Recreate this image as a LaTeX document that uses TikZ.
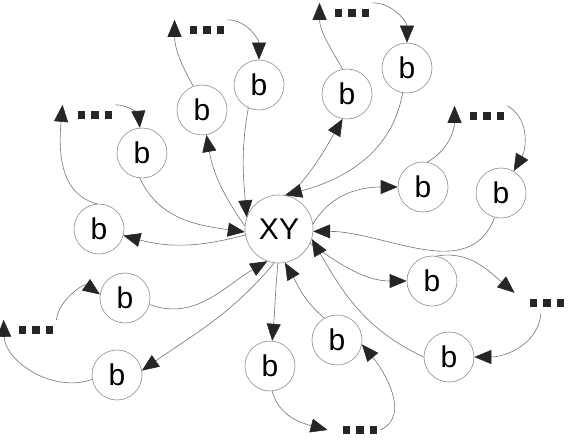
\documentclass[tikz,border=0pt]{standalone}
\usepackage{fontspec}
\setmainfont{Liberation Sans}
\usetikzlibrary{arrows.meta}

% three square dots, with room on the left for the arrow tip
\newcommand{\etcdots}{\hspace*{12pt}\rule{7.5pt}{7.5pt}\hspace{6pt}\rule{7.5pt}{7.5pt}\hspace{6pt}\rule{7.5pt}{7.5pt}}

\begin{document}
\begin{tikzpicture}[x=1pt, y=1pt,
    ball/.style={circle, draw=black!45, line width=0.6pt, minimum size=50pt, inner sep=0pt,
                 font=\fontsize{30}{36}\selectfont},
    etc/.style={inner xsep=3pt, inner ysep=6.25pt, text=black!85},
    link/.style={draw=black!55, line width=0.6pt,
                 -{Triangle[length=17pt, width=14pt, color=black!85]}}]

    \useasboundingbox (0,0) rectangle (568,445);

    % ==========================================
    % NODES
    % ==========================================

    % Centre
    \node[ball, minimum size=68pt] (xy) at (279,216) {XY};

    % Outgoing (bo) and incoming (bi) b nodes, one pair per branch
    \node[ball] (bi1) at (259,360) {b};
    \node[ball] (bo1) at (202,335) {b};
    \node[ball] (bi2) at (142,292) {b};
    \node[ball] (bo2) at (99,216) {b};
    \node[ball] (bo3) at (347,351) {b};
    \node[ball] (bi3) at (407,377) {b};
    \node[ball] (bo4) at (423,258) {b};
    \node[ball] (bi4) at (501,252) {b};
    \node[ball] (bo5) at (432,164) {b};
    \node[ball] (bi5) at (449,88) {b};
    \node[ball] (bo6) at (270,79) {b};
    \node[ball] (bi6) at (337,105) {b};
    \node[ball] (bi7) at (125,147) {b};
    \node[ball] (bo7) at (117,70) {b};

    % Dots
    \node[etc] (d1) at (201,415) {\etcdots};
    \node[etc] (d2) at (89,330) {\etcdots};
    \node[etc] (d3) at (346,432) {\etcdots};
    \node[etc] (d4) at (481,329) {\etcdots};
    \node[etc] (d5) at (541,142) {\etcdots};
    \node[etc] (d6) at (354,15) {\etcdots};
    \node[etc] (d7) at (30,115) {\etcdots};

    % ==========================================
    % BRANCHES: XY -> bo -> dots -> bi -> XY
    % ==========================================

    % Upper left
    \draw[link] (xy.175) to[out=125, in=-80] (bo1);
    \draw[link] (bo1.110) to[out=120, in=-90] (d1.north west);
    \draw[link] (d1.north east) to[out=0, in=90] (bi1);
    \draw[link] (bi1.-115) to[out=-100, in=95] (xy.160);

    % Left
    \draw[link] (xy.190) to[out=195, in=-15] (bo2);
    \draw[link] (bo2.95) to[out=165, in=-95] (d2.north west);
    \draw[link] (d2.north east) to[out=0, in=95] (bi2);
    \draw[link] (bi2.-95) to[out=-65, in=172] (xy.185);

    % Top right
    \draw[link] (xy.72) to[out=48, in=-120] (bo3.-100);
    \draw[link] (bo3.100) to[out=120, in=-90] (d3.north west);
    \draw[link] (d3.north east) to[out=0, in=90] (bi3);
    \draw[link] (bi3.-100) to[out=-100, in=15] (xy.80);

    % Right
    \draw[link] (xy.8) to[out=60, in=180] (bo4);
    \draw[link] (bo4.80) to[out=30, in=-90] (d4.north west);
    \draw[link] (d4.north east) to[out=-30, in=60] (bi4);
    \draw[link] (bi4.-105) to[out=-110, in=0] (xy.356);

    % Lower right
    \draw[link] (xy.335) to[out=-35, in=180] (bo5);
    \draw[link] (bo5.80) to[out=10, in=140] (d5.north west);
    \draw[link] (d5.south) to[out=-95, in=0] (bi5);
    \draw[link] (bi5.180) to[out=155, in=-60] (xy.343);

    % Bottom
    \draw[link] (xy.268) to[out=-95, in=85] (bo6);
    \draw[link] (bo6.-85) to[out=-75, in=165] (d6.west);
    \draw[link] (d6.east) to[out=25, in=-50] (bi6.-10);
    \draw[link] (bi6.120) to[out=140, in=-60] (xy.280);

    % Lower left
    \draw[link] (xy.262) to[out=-130, in=35] (bo7.10);
    \draw[link] (bo7.190) to[out=200, in=-88] (d7.north west);
    \draw[link] (d7.north east) to[out=85, in=145] (bi7.172);
    \draw[link] (bi7.-15) to[out=-20, in=-150] (xy.250);

\end{tikzpicture}
\end{document}
